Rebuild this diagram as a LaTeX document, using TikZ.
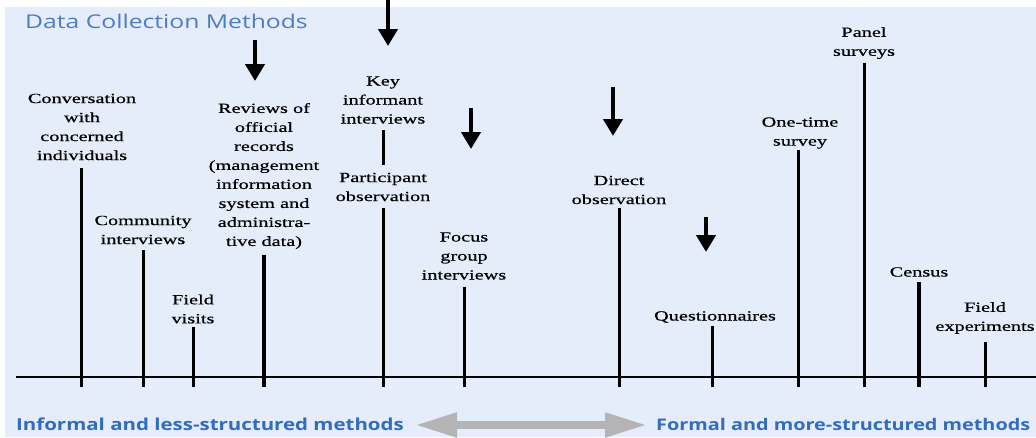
\documentclass[tikz,border=0pt]{standalone}
\usepackage{fontspec}
\setmainfont{Liberation Serif}
\newfontfamily\lblfont[FakeStretch=1.45,FakeBold=0.6]{Liberation Serif}
\newfontfamily\headfont[FakeStretch=1.3]{Open Sans}
\newfontfamily\capfont[FakeStretch=1.24]{Open Sans}
\usetikzlibrary{arrows.meta}
\definecolor{paper}{HTML}{E6EDFA}
\definecolor{titleblue}{HTML}{4C7DC4}
\definecolor{scaleblue}{HTML}{2F6CC4}
\definecolor{spangray}{HTML}{B4B4B4}
\begin{document}
\begin{tikzpicture}[x=1pt,y=-1pt,
  method/.style={font=\lblfont\fontsize{14}{19}\selectfont, align=center,
    inner sep=0pt, text=black},
  stem/.style={line width=3pt},
  heavystem/.style={line width=4.5pt},
  pointer/.style={line width=4.5pt, -{Triangle[width=19pt,length=17pt]}},
  caption/.style={font=\capfont\fontsize{16.5}{19}\bfseries\selectfont,
    text=scaleblue, inner sep=0pt}]

% frame and background
\fill[white] (0,0) rectangle (1036,437);
\fill[paper] (5,7) rectangle (1036,437);
\useasboundingbox (0,0) rectangle (1036,437);

% title
\node[font=\headfont\fontsize{19}{22}\selectfont, text=titleblue,
  anchor=base west, inner sep=0pt] (title) at (25,28) {Data Collection Methods};

% horizontal scale
\coordinate (axisL) at (16,377);
\coordinate (axisR) at (1036,377);
\draw[line width=2.5pt] (axisL) -- (axisR);

% method labels
\node[method] (conv)    at (82,127)  {Conversation\\with\\concerned\\individuals};
\node[method] (comm)    at (143,230) {Community\\interviews};
\node[method] (visits)  at (193,309) {Field\\visits};
\node[method] (reviews) at (264,176) {Reviews of\\official\\records\\(management\\information\\system and\\administra-\\tive data)};
\node[method] (key)     at (383,100) {Key\\informant\\interviews};
\node[method] (part)    at (383,187) {Participant\\observation};
\node[method] (focus)   at (464,256) {Focus\\group\\interviews};
\node[method] (direct)  at (619,190) {Direct\\observation};
\node[method] (quest)   at (715,317) {Questionnaires};
\node[method] (onetime) at (800,133) {One-time\\survey};
\node[method] (panel)   at (864,43)  {Panel\\surveys};
\node[method] (census)  at (919,272) {Census};
\node[method] (fieldx)  at (985,318) {Field\\experiments};

% stems down to the scale
\foreach \nm/\x/\top in {conv/81/168, comm/143/250, visits/193/327,
    part/383/208, focus/464/287, direct/619/208, quest/712/326,
    onetime/798/150, panel/864/63, fieldx/985/342}{
  \coordinate (\nm-top) at (\x,\top);
  \coordinate (\nm-foot) at (\x,387);
  \draw[stem] (\nm-top) -- (\nm-foot);
}
\foreach \nm/\x/\top in {reviews/264/255, census/919/282}{
  \coordinate (\nm-top) at (\x,\top);
  \coordinate (\nm-foot) at (\x,387);
  \draw[heavystem] (\nm-top) -- (\nm-foot);
}
% link between key informant and participant observation
\coordinate (keylink-a) at (383,130);
\coordinate (keylink-b) at (383,165);
\draw[stem] (keylink-a) -- (keylink-b);

% emphasis arrows
\foreach \nm/\x/\ya/\yb in {pA/255/40/81, pB/388/-2/46, pC/471/108/149,
    pD/613/87/136, pE/706/217/252}{
  \coordinate (\nm-a) at (\x,\ya);
  \coordinate (\nm-b) at (\x,\yb);
  \draw[pointer] (\nm-a) -- (\nm-b);
}

% continuum captions
\node[caption, anchor=west] (informal) at (16,424) {Informal and less-structured methods};
\node[caption, anchor=west, font=\capfont\fontsize{16}{19}\bfseries\selectfont]
  (formal) at (656,424) {Formal and more-structured methods};
\coordinate (span-l) at (415,425);
\coordinate (span-r) at (647,425);
\draw[spangray, line width=8pt,
  {Triangle[width=23pt,length=42pt]}-{Triangle[width=23pt,length=42pt]}]
  (span-l) -- (span-r);
\end{tikzpicture}
\end{document}
